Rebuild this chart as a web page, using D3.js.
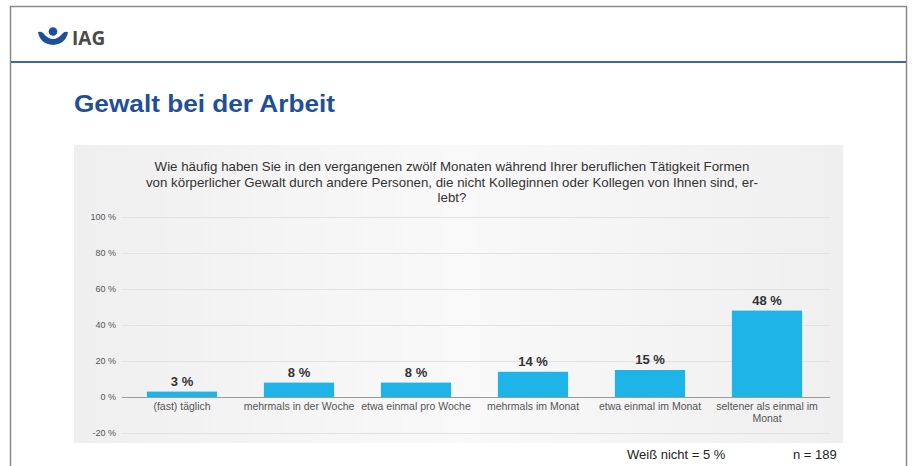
<!DOCTYPE html>
<html lang="de">
<head>
<meta charset="utf-8">
<script src="https://cdn.jsdelivr.net/npm/d3@7"></script>
<style>
  html, body { margin: 0; padding: 0; background: #fff; }
  svg { display: block; font-family: "Liberation Sans", Arial, sans-serif; }
</style>
</head>
<body>
<svg id="chart" width="914" height="466"></svg>
<script>
// Antwortkategorien und Anteile (%)
const categories = [
  "(fast) täglich",
  "mehrmals in der Woche",
  "etwa einmal pro Woche",
  "mehrmals im Monat",
  "etwa einmal im Monat",
  "seltener als einmal im Monat"
];
const shares = [3, 8, 8, 14, 15, 48];
const yTicks = [-20, 0, 20, 40, 60, 80, 100];
const questionLines = [
  "Wie häufig haben Sie in den vergangenen zwölf Monaten während Ihrer beruflichen Tätigkeit Formen",
  "von körperlicher Gewalt durch andere Personen, die nicht Kolleginnen oder Kollegen von Ihnen sind, er-",
  "lebt?"
];

const svg = d3.select("#chart");

// Seitenrahmen und Kopfzeile
svg.append("rect").attr("x", 10.5).attr("y", 6.5).attr("width", 896).attr("height", 470)
  .attr("fill", "#fff").attr("stroke", "#8a8a8a").attr("stroke-width", 1.5);
svg.append("line").attr("x1", 11).attr("x2", 906).attr("y1", 62).attr("y2", 62)
  .attr("stroke", "#3f64a8").attr("stroke-width", 2);

// Logo
const logo = svg.append("g").attr("transform", "translate(38,27)");
logo.append("circle").attr("cx", 15).attr("cy", 4.5).attr("r", 4.3).attr("fill", "#1d4f9c");
logo.append("path")
  .attr("d", "M0,5 Q3,4 5,6 Q10,12 15,12 Q20,12 25,6 Q27,4 30,5 Q28,17 15,18 Q2,17 0,5 Z")
  .attr("fill", "#1d4f9c");
svg.append("text").attr("x", 72).attr("y", 45).text("IAG")
  .attr("font-size", 19).attr("font-weight", "bold").attr("fill", "#4a4a4a")
  .attr("font-family", "'Open Sans', 'Liberation Sans', sans-serif");

// Folientitel
svg.append("text").attr("x", 74).attr("y", 112).text("Gewalt bei der Arbeit")
  .attr("font-size", 24).attr("font-weight", "bold").attr("fill", "#1f4f9a")
  .attr("textLength", 261).attr("lengthAdjust", "spacingAndGlyphs");

// Diagrammfläche
const grad = svg.append("defs").append("linearGradient").attr("id", "panelBg")
  .attr("x1", 0).attr("x2", 1).attr("y1", 0).attr("y2", 0);
grad.append("stop").attr("offset", "0%").attr("stop-color", "#efefef");
grad.append("stop").attr("offset", "50%").attr("stop-color", "#f9f9f9");
grad.append("stop").attr("offset", "100%").attr("stop-color", "#efefef");
svg.append("rect").attr("x", 74).attr("y", 145).attr("width", 769).attr("height", 298)
  .attr("fill", "url(#panelBg)");

// Fragetext
svg.append("g").selectAll("text").data(questionLines).join("text")
  .attr("x", 452).attr("y", (d, i) => 171 + i * 15.5)
  .attr("text-anchor", "middle").attr("font-size", 13.3).attr("fill", "#333")
  .text(d => d);

// Skalen
const x = d3.scaleBand().domain(categories).range([123.5, 825.5])
  .paddingInner(0.4).paddingOuter(0.2);
const y = d3.scaleLinear().domain([-20, 100]).range([433, 217]);

// Gitterlinien und y-Achsenbeschriftung
const yAxis = svg.append("g").attr("transform", "translate(122,0)")
  .call(d3.axisLeft(y).tickValues(yTicks).tickSize(-708).tickFormat(d => d + " %"));
yAxis.select(".domain").remove();
yAxis.selectAll(".tick line").attr("stroke", d => d === 0 ? "#9a9a9a" : "#e2e2e2")
  .attr("stroke-width", 1);
yAxis.selectAll(".tick text").attr("x", -6).attr("font-size", 9)
  .attr("fill", "#555").attr("font-family", "'Liberation Sans', Arial, sans-serif");

// Balken
svg.append("g").selectAll("rect").data(shares).join("rect")
  .attr("x", (d, i) => x(categories[i]))
  .attr("y", d => y(d))
  .attr("width", x.bandwidth())
  .attr("height", d => y(0) - y(d))
  .attr("fill", "#1eb4e8");

// Wertebeschriftungen
svg.append("g").selectAll("text").data(shares).join("text")
  .attr("x", (d, i) => x(categories[i]) + x.bandwidth() / 2)
  .attr("y", d => y(d) - 6)
  .attr("text-anchor", "middle").attr("font-size", 13).attr("font-weight", "bold")
  .attr("fill", "#333").text(d => d + " %");

// Kategorienbeschriftungen (lange Bezeichnungen werden umbrochen)
const wrapAt = 122;
const catG = svg.append("g");
categories.forEach(c => {
  const cx = x(c) + x.bandwidth() / 2;
  const t = catG.append("text").attr("x", cx).attr("y", 409.5)
    .attr("text-anchor", "middle").attr("font-size", 10.5).attr("fill", "#555");
  let line = [];
  let tspan = t.append("tspan").attr("x", cx).attr("dy", 0);
  c.split(" ").forEach(w => {
    line.push(w);
    tspan.text(line.join(" "));
    if (tspan.node().getComputedTextLength() > wrapAt && line.length > 1) {
      line.pop();
      tspan.text(line.join(" "));
      line = [w];
      tspan = t.append("tspan").attr("x", cx).attr("dy", 12).text(w);
    }
  });
});

// Fußzeile
svg.append("text").attr("x", 627).attr("y", 459).text("Weiß nicht = 5 %")
  .attr("font-size", 13).attr("fill", "#222");
svg.append("text").attr("x", 793).attr("y", 459).text("n = 189")
  .attr("font-size", 13).attr("fill", "#222");
</script>
</body>
</html>
